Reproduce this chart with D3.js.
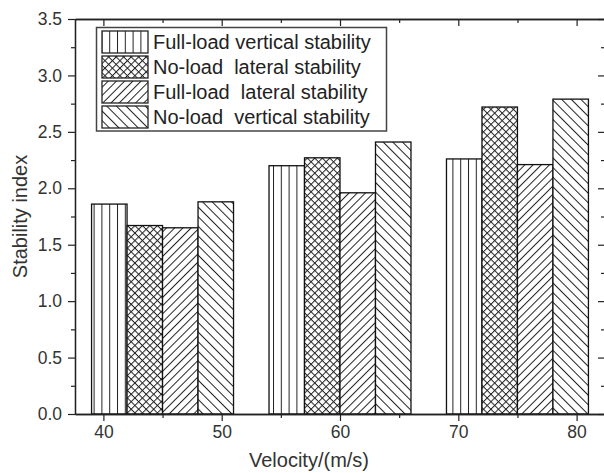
<!DOCTYPE html>
<html><head><meta charset="utf-8">
<script src="https://cdn.jsdelivr.net/npm/d3@7"></script>
<style>
html,body{margin:0;padding:0;background:#fff;}
text{font-family:"Liberation Sans",Arial,sans-serif;}
</style></head>
<body><svg id="c" width="604" height="473"></svg>
<script>
const velocities = [45, 60, 75];
const seriesNames = ["Full-load vertical stability", "No-load  lateral stability", "Full-load  lateral stability", "No-load  vertical stability"];
const fullLoadVertical = [1.86, 2.20, 2.26];
const noLoadLateral = [1.67, 2.27, 2.72];
const fullLoadLateral = [1.65, 1.96, 2.21];
const noLoadVertical = [1.88, 2.41, 2.79];
const xTickValues = [40, 50, 60, 70, 80];
const xMinorTicks = [45, 55, 65, 75];
const yTickValues = [0, 0.5, 1.0, 1.5, 2.0, 2.5, 3.0, 3.5];
const yMinorTicks = [0.25, 0.75, 1.25, 1.75, 2.25, 2.75, 3.25];
const barWidthUnits = 3;

const series = [fullLoadVertical, noLoadLateral, fullLoadLateral, noLoadVertical];
const patternIds = ["pVert", "pCross", "pFwd", "pBack"];

const svg = d3.select("#c");
const L = 75, R = 605, T = 19, B = 414;
const x = d3.scaleLinear().domain([37.6, 82.4]).range([L, R]);
const y = d3.scaleLinear().domain([0, 3.5]).range([B, T]);

const defs = svg.append("defs");
const lc = "#222";
let p = defs.append("pattern").attr("id", "pVert").attr("patternUnits", "userSpaceOnUse").attr("width", 7.8).attr("height", 10);
p.append("line").attr("x1", 0.5).attr("x2", 0.5).attr("y1", 0).attr("y2", 10).attr("stroke", lc).attr("stroke-width", 1);
p = defs.append("pattern").attr("id", "pCross").attr("patternUnits", "userSpaceOnUse").attr("width", 5.3).attr("height", 5.3).attr("patternTransform", "rotate(45)");
p.append("line").attr("x1", 0.5).attr("x2", 0.5).attr("y1", 0).attr("y2", 5.3).attr("stroke", lc).attr("stroke-width", 1);
p.append("line").attr("y1", 0.5).attr("y2", 0.5).attr("x1", 0).attr("x2", 5.3).attr("stroke", lc).attr("stroke-width", 1);
p = defs.append("pattern").attr("id", "pFwd").attr("patternUnits", "userSpaceOnUse").attr("width", 5.8).attr("height", 10).attr("patternTransform", "rotate(45)");
p.append("line").attr("x1", 0.5).attr("x2", 0.5).attr("y1", 0).attr("y2", 10).attr("stroke", lc).attr("stroke-width", 1);
p = defs.append("pattern").attr("id", "pBack").attr("patternUnits", "userSpaceOnUse").attr("width", 6.8).attr("height", 10).attr("patternTransform", "rotate(-45)");
p.append("line").attr("x1", 0.5).attr("x2", 0.5).attr("y1", 0).attr("y2", 10).attr("stroke", lc).attr("stroke-width", 1);

const offsets = [-4.5, -1.5, 1.5, 4.5];
series.forEach((vals, si) => {
  const bx0 = (d, i) => x(velocities[i] + offsets[si] - barWidthUnits / 2);
  const bw = (d, i) => x(velocities[i] + offsets[si] + barWidthUnits / 2) - bx0(d, i);
  svg.append("g").selectAll("rect").data(vals).join("rect")
    .attr("x", bx0).attr("width", bw)
    .attr("y", d => y(d)).attr("height", d => y(0) - y(d))
    .attr("fill", "#fff");
  svg.append("g").selectAll("rect").data(vals).join("rect")
    .attr("x", bx0).attr("width", bw)
    .attr("y", d => y(d)).attr("height", d => y(0) - y(d))
    .attr("fill", `url(#${patternIds[si]})`)
    .attr("stroke", "#111").attr("stroke-width", 1.3);
});

function styleAxis(g, labels) {
  g.select(".domain").attr("stroke", "#222").attr("stroke-width", 1.3);
  g.selectAll(".tick line").attr("stroke", "#222").attr("stroke-width", 1.2);
  g.selectAll(".tick text").attr("fill", "#333").style("font-size", "17.5px");
  if (!labels) g.selectAll(".tick text").remove();
}
const fmt = d3.format(".1f");
svg.append("g").attr("transform", `translate(${L},0)`)
  .call(d3.axisLeft(y).tickValues(yTickValues).tickFormat(fmt).tickSize(7).tickPadding(6).tickSizeOuter(0))
  .call(g => styleAxis(g, true));
svg.append("g").attr("transform", `translate(${L},0)`)
  .call(d3.axisLeft(y).tickValues(yMinorTicks).tickSize(4).tickSizeOuter(0))
  .call(g => styleAxis(g, false));
svg.append("g").attr("transform", `translate(${R},0)`)
  .call(d3.axisLeft(y).tickValues(yTickValues).tickSize(7).tickSizeOuter(0))
  .call(g => styleAxis(g, false));
svg.append("g").attr("transform", `translate(${R},0)`)
  .call(d3.axisLeft(y).tickValues(yMinorTicks).tickSize(4).tickSizeOuter(0))
  .call(g => styleAxis(g, false));
svg.append("g").attr("transform", `translate(0,${B})`)
  .call(d3.axisBottom(x).tickValues(xTickValues).tickFormat(d3.format("d")).tickSize(7).tickPadding(5).tickSizeOuter(0))
  .call(g => styleAxis(g, true));
svg.append("g").attr("transform", `translate(0,${B})`)
  .call(d3.axisBottom(x).tickValues(xMinorTicks).tickSize(4).tickSizeOuter(0))
  .call(g => styleAxis(g, false));
svg.append("g").attr("transform", `translate(0,${T})`)
  .call(d3.axisBottom(x).tickValues(xTickValues).tickSize(7).tickSizeOuter(0))
  .call(g => styleAxis(g, false));
svg.append("g").attr("transform", `translate(0,${T})`)
  .call(d3.axisBottom(x).tickValues(xMinorTicks).tickSize(4).tickSizeOuter(0))
  .call(g => styleAxis(g, false));

svg.append("text").attr("x", 309).attr("y", 467).attr("text-anchor", "middle")
  .attr("fill", "#333").style("font-size", "20px").text("Velocity/(m/s)");
svg.append("text").attr("transform", `translate(27,${(T + B) / 2}) rotate(-90)`).attr("text-anchor", "middle")
  .attr("fill", "#333").style("font-size", "20px").text("Stability index");

const lg = svg.append("g");
lg.append("rect").attr("x", 96.5).attr("y", 27.5).attr("width", 290).attr("height", 103.5)
  .attr("fill", "#fff").attr("stroke", "#444").attr("stroke-width", 1.5);
seriesNames.forEach((name, i) => {
  const yy = 31 + i * 25;
  lg.append("rect").attr("x", 102).attr("y", yy).attr("width", 46).attr("height", 22)
    .attr("fill", `url(#${patternIds[i]})`).attr("stroke", "#222").attr("stroke-width", 1.3);
  lg.append("text").attr("x", 153).attr("y", yy + 18).attr("fill", "#222")
    .style("font-size", "20px").style("white-space", "pre").attr("xml:space", "preserve").text(name);
});
</script></body></html>
